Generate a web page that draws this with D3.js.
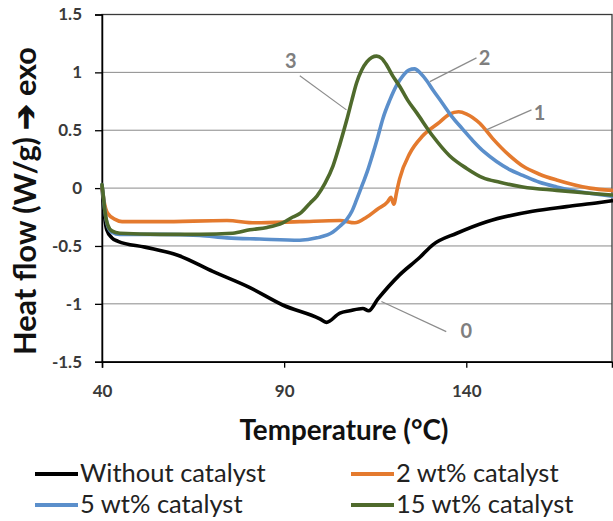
<!DOCTYPE html>
<html><head><meta charset="utf-8">
<script src="https://cdn.jsdelivr.net/npm/d3@7"></script>
<style>
html,body{margin:0;padding:0;background:#fff;}
svg{display:block;font-family:Lato,"Open Sans",sans-serif;}
</style></head>
<body>
<svg id="chart" width="613" height="521"></svg>
<script>
// ---- data ----
const seriesNames = ["Without catalyst", "2 wt% catalyst", "5 wt% catalyst", "15 wt% catalyst"];
const seriesColors = ["#000000", "#E47A2E", "#5B8FCB", "#4F6A2C"];

const tempWithout = [40, 40.36, 41.3, 42.7, 44.4, 51.8, 60.8, 70.4, 80.6, 89.6, 99.8, 101.6, 105.3, 108.0, 111.6, 113.2, 115.7, 121.7, 127.2, 130.8, 137.4, 145.6, 158.2, 167.5, 176.6, 180];
const flowWithout = [0.02, -0.13, -0.36, -0.43, -0.46, -0.51, -0.58, -0.72, -0.86, -1.01, -1.13, -1.16, -1.08, -1.06, -1.04, -1.06, -0.96, -0.75, -0.6, -0.49, -0.39, -0.29, -0.2, -0.16, -0.125, -0.11];

const temp2 = [40, 40.5, 41.6, 43.6, 45.5, 55.9, 74.3, 82.0, 94.3, 105.3, 109.4, 112.7, 115.7, 118.4, 119.3, 120.1, 120.9, 121.7, 124.5, 128.0, 132.7, 135.4, 137.9, 140.1, 143.7, 147.2, 151.9, 155.5, 160.1, 164.8, 173.9, 180];
const flow2 = [0.02, -0.1, -0.22, -0.27, -0.29, -0.29, -0.28, -0.3, -0.29, -0.28, -0.3, -0.25, -0.18, -0.12, -0.08, -0.14, -0.03, 0.08, 0.3, 0.45, 0.57, 0.64, 0.66, 0.64, 0.56, 0.43, 0.28, 0.19, 0.12, 0.07, 0.0, -0.02];

const temp5 = [40, 40.3, 40.8, 41.6, 42.7, 44.9, 55.9, 66.9, 74.3, 83.3, 94.3, 99.0, 103.4, 105.3, 107.2, 108.6, 109.9, 111.6, 113.0, 114.1, 115.7, 117.1, 119.0, 120.9, 122.6, 124.2, 125.8, 127.5, 129.1, 130.8, 133.3, 136.0, 139.0, 141.8, 145.0, 148.3, 151.9, 155.5, 160.1, 164.8, 173.8, 180];
const flow5 = [0.03, -0.05, -0.2, -0.33, -0.38, -0.4, -0.4, -0.41, -0.43, -0.44, -0.45, -0.43, -0.38, -0.33, -0.27, -0.2, -0.1, 0.04, 0.16, 0.27, 0.44, 0.6, 0.76, 0.89, 0.97, 1.02, 1.03, 0.99, 0.93, 0.85, 0.74, 0.62, 0.51, 0.41, 0.31, 0.23, 0.16, 0.11, 0.05, 0.01, -0.045, -0.07];

const temp15 = [40, 40.3, 40.8, 41.6, 42.7, 44.9, 55.9, 66.9, 75.9, 80.6, 85.3, 89.6, 92.4, 94.3, 97.1, 99.0, 101.2, 103.4, 105.3, 107.2, 108.6, 109.9, 111.3, 112.7, 114.1, 115.4, 116.8, 118.2, 119.8, 121.7, 123.9, 126.4, 130.8, 135.4, 140.1, 144.5, 149.2, 155.5, 164.8, 173.8, 180];
const flow15 = [0.03, -0.05, -0.2, -0.32, -0.37, -0.39, -0.4, -0.4, -0.39, -0.36, -0.34, -0.3, -0.25, -0.22, -0.13, -0.07, 0.04, 0.19, 0.38, 0.59, 0.76, 0.91, 1.02, 1.09, 1.13, 1.14, 1.12, 1.06, 0.97, 0.88, 0.76, 0.65, 0.45, 0.28, 0.17, 0.09, 0.05, 0.01, -0.02, -0.045, -0.06];

const yTicks = [-1.5, -1, -0.5, 0, 0.5, 1, 1.5];
const xTicks = [40, 90, 140];
const gridValues = [-1, -0.5, 0, 0.5, 1];

// annotation labels (data coordinates)
const annoText = ["3", "2", "1", "0"];
const annoLabelT = [91.8, 145.0, 160.1, 140.0];
const annoLabelY = [1.108, 1.137, 0.66, -1.226];
const annoFromT = [94.3, 142.8, 157.9, 134.5];
const annoFromY = [0.97, 1.125, 0.676, -1.24];
const annoToT = [107.1, 130.0, 145.5, 116.7];
const annoToY = [0.676, 0.92, 0.503, -0.98];

// ---- chart ----
const svg = d3.select("#chart");
const x = d3.scaleLinear().domain([40, 180]).range([102, 612]);
const y = d3.scaleLinear().domain([-1.5, 1.5]).range([361.7, 14.5]);

function fitWidth(sel, target, maxSize) {
  const fs = +sel.attr("font-size");
  const w = sel.node().getComputedTextLength();
  let s = fs * target / w;
  if (maxSize) s = Math.min(s, maxSize);
  sel.attr("font-size", s.toFixed(2));
}

// gridlines
svg.append("g").selectAll("line").data(gridValues).join("line")
  .attr("x1", x(40)).attr("x2", x(180))
  .attr("y1", d => y(d)).attr("y2", d => y(d))
  .attr("stroke", "#8a8a8a").attr("stroke-width", 1);

// plot border
svg.append("rect").attr("x", x(40)).attr("y", y(1.5))
  .attr("width", x(180) - x(40)).attr("height", y(-1.5) - y(1.5))
  .attr("fill", "none").attr("stroke", "#3a3a3a").attr("stroke-width", 1.3);

// axes
const fmt = d => String(d);
const yAxis = svg.append("g").attr("transform", `translate(${x(40)},0)`)
  .call(d3.axisLeft(y).tickValues(yTicks).tickFormat(fmt).tickSize(7).tickPadding(13));
const xAxis = svg.append("g").attr("transform", `translate(0,${y(-1.5)})`)
  .call(d3.axisBottom(x).tickValues(xTicks).tickFormat(fmt).tickSize(6).tickPadding(17));
[yAxis, xAxis].forEach(g => {
  g.select(".domain").attr("stroke", "#000").attr("stroke-width", 1.5);
  g.selectAll(".tick line").attr("stroke", "#000").attr("stroke-width", 1.3);
  g.selectAll(".tick text").attr("fill", "#3a3a3a").attr("font-size", 17)
    .attr("font-weight", 700).attr("font-family", "Lato, sans-serif");
});

// series
const allT = [tempWithout, temp2, temp5, temp15];
const allY = [flowWithout, flow2, flow5, flow15];
const line = d3.line().x(d => x(d[0])).y(d => y(d[1])).curve(d3.curveMonotoneX);
allT.forEach((ts, i) => {
  const pts = ts.map((t, j) => [t, allY[i][j]]);
  svg.append("path").datum(pts).attr("d", line)
    .attr("fill", "none").attr("stroke", seriesColors[i]).attr("stroke-width", 3.6)
    .attr("stroke-linejoin", "round").attr("stroke-linecap", "round");
});

// annotations
annoText.forEach((t, i) => {
  svg.append("line")
    .attr("x1", x(annoFromT[i])).attr("y1", y(annoFromY[i]))
    .attr("x2", x(annoToT[i])).attr("y2", y(annoToY[i]))
    .attr("stroke", "#8c8c8c").attr("stroke-width", 1.2);
  svg.append("text").attr("x", x(annoLabelT[i])).attr("y", y(annoLabelY[i]))
    .attr("text-anchor", "middle").attr("dominant-baseline", "central")
    .attr("font-size", 20).attr("font-weight", 700).attr("fill", "#7f7f7f")
    .text(t);
});

// axis titles
const xt = svg.append("text").attr("x", 344).attr("y", 440)
  .attr("text-anchor", "middle")
  .attr("font-size", 24).attr("font-weight", 700).attr("fill", "#111")
  .text("Temperature (°C)");
fitWidth(xt, 209);
const yt = svg.append("text").attr("transform", "translate(36,201) rotate(-90)")
  .attr("text-anchor", "middle")
  .attr("font-size", 26).attr("font-weight", 700).attr("fill", "#111")
  .text("Heat flow (W/g) \u2794 exo");
fitWidth(yt, 308);

// legend
const legX = [35, 351];
const legY = [474, 505];
seriesNames.forEach((name, i) => {
  const lx = legX[i % 2], ly = legY[Math.floor(i / 2)];
  svg.append("line").attr("x1", lx).attr("x2", lx + 43).attr("y1", ly).attr("y2", ly)
    .attr("stroke", seriesColors[i]).attr("stroke-width", 4);
  const t = svg.append("text").attr("x", lx + 45).attr("y", ly + 8)
    .attr("font-size", 25).attr("fill", "#222").text(name);
  if (i === 0) fitWidth(t, 194, 25.5);
});
// apply same size to all legend texts
const legSize = svg.selectAll("text").filter(function () { return seriesNames.includes(this.textContent); });
const s0 = legSize.filter(function () { return this.textContent === seriesNames[0]; }).attr("font-size");
legSize.attr("font-size", s0);
</script>
</body></html>
